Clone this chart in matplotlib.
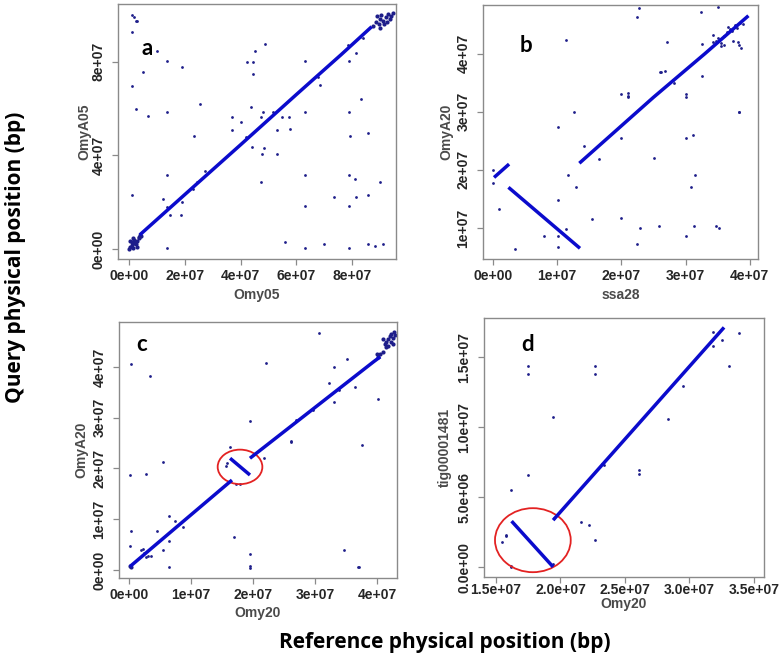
import matplotlib
matplotlib.use("Agg")
import matplotlib.pyplot as plt
from matplotlib.patches import Ellipse

E7 = 1e7  # all positions below are in units of 1e7 bp

# ---- panel a: Omy05 vs OmyA05
a_line_x = [0.39, 2.0, 4.0, 6.0, 7.6, 8.7]
a_line_y = [0.6, 2.32, 4.45, 6.6, 8.3, 9.5]
a_dots_x = [0.1, 0.17, 0.24, 0.29, 0.1, 0.99, 1.37, 0.49, 1.89, 0.12, 2.54, 0.25, 1.37, 0.67, 2.33,
            2.71, 1.37, 2.43, 0.12, 1.23, 1.37, 1.47, 1.85, 1.37, 4.52, 4.22, 4.43, 4.43, 4.87, 4.37,
            4.81, 4.73, 3.7, 4.01, 3.7, 5.17, 5.32, 5.47, 5.75, 5.77, 4.2, 4.42, 4.84, 4.76, 5.32,
            4.73, 5.6, 6.3, 6.3, 6.3, 6.3, 6.3, 6.76, 6.84, 6.99, 7.35, 7.86, 7.88, 7.9, 7.92, 7.9,
            7.9, 7.9, 8.1, 8.14, 8.12, 8.3, 8.58, 8.58, 8.58, 8.82, 9.0, 9.1, 1.9, 2.3, 8.28, 8.4]
a_dots_y = [10.0, 9.93, 9.76, 9.76, 9.26, 8.47, 8.03, 7.58, 7.79, 6.97, 6.2, 5.97, 5.86, 5.68, 4.84,
            3.33, 3.16, 2.88, 2.3, 2.13, 1.8, 1.45, 1.45, 0.02, 8.47, 7.98, 7.98, 7.48, 8.74, 6.08,
            5.87, 5.65, 5.65, 5.41, 5.08, 5.87, 5.08, 5.62, 5.62, 5.13, 4.8, 4.37, 4.33, 4.06, 4.05,
            2.88, 0.28, 8.03, 5.84, 3.16, 1.83, 0.02, 7.36, 7.0, 0.2, 2.2, 8.72, 8.03, 5.84, 4.84, 3.16,
            1.83, 0.02, 2.99, 2.23, 8.39, 6.4, 4.96, 2.3, 0.19, 0.12, 2.88, 0.19, 2.0, 2.55, 9.06, 9.0]
a_clust_x = [0.0, 0.05, 0.1, 0.15, 0.1, 0.2, 0.25, 0.3, 0.35, 0.4, 0.15, 0.3, 0.05, 0.2, 0.42, 0.38,
             8.75, 8.85, 8.9, 9.0, 9.05, 9.1, 9.15, 9.2, 9.3, 9.35, 9.4, 9.0, 9.25, 8.95, 9.45]
a_clust_y = [0.0, 0.1, 0.15, 0.05, 0.3, 0.4, 0.2, 0.35, 0.5, 0.6, 0.45, 0.1, 0.35, 0.25, 0.55, 0.45,
             9.55, 9.7, 9.95, 9.85, 10.0, 9.75, 9.6, 9.9, 10.05, 9.85, 9.95, 9.45, 9.7, 9.6, 10.1]

# ---- panel b: ssa28 vs OmyA20
b_seg1_x, b_seg1_y = [0.016, 0.25], [1.87, 2.10]
b_seg2_x, b_seg2_y = [0.24, 1.355], [1.70, 0.65]
b_seg3_x = [1.345, 2.5, 3.3, 3.98]
b_seg3_y = [2.115, 3.25, 4.0, 4.655]
b_dots_x = [0, 0, 0.1, 0.35, 0.79, 1.01, 1.01, 1.01, 1.01, 1.14, 1.17, 1.14, 1.26, 1.3, 1.42, 1.54,
            1.65, 2.0, 2.0, 2.0, 2.1, 2.1, 2.1, 2.25, 2.28, 2.25, 2.29, 2.51, 2.59, 2.6, 2.62, 2.68,
            2.71, 2.81, 2.82, 3.0, 3.0, 3.0, 3.0, 3.09, 3.12, 3.13, 3.14, 3.25, 3.25, 3.24, 3.51,
            3.47, 3.52, 3.84, 3.83, 3.74, 3.82, 3.84, 3.86, 3.56, 3.6,
            3.43, 3.43, 3.5, 3.64, 3.69, 3.77, 3.85, 3.56, 3.6, 3.72, 3.8, 3.9, 3.47, 3.66]
b_dots_y = [1.99, 1.78, 1.32, 0.64, 0.87, 1.48, 0.86, 0.68, 2.74, 4.24, 1.92, 0.98, 3.0, 1.70, 2.42,
            1.16, 2.18, 3.31, 2.55, 1.18, 3.32, 3.28, 3.25, 4.63, 4.79, 0.73, 1.0, 2.2, 1.04, 3.68,
            3.68, 3.7, 4.2, 3.55, 3.5, 3.3, 3.25, 2.55, 0.86, 1.70, 2.6, 1.04, 1.92, 4.16, 3.62, 4.72,
            4.8, 1.04, 1.0, 3.0, 3.0, 4.22, 4.2, 4.15, 4.1, 4.18, 4.15,
            4.33, 4.2, 4.28, 4.38, 4.43, 4.5, 4.53, 4.13, 4.3, 4.4, 4.45, 4.52, 4.22, 4.46]

# ---- panel c: Omy20 vs OmyA20
c_seg1_x, c_seg1_y = [0.016, 1.66], [0.065, 1.77]
c_seg2_x, c_seg2_y = [1.63, 1.95], [2.2, 1.87]
c_seg3_x, c_seg3_y = [1.95, 3.94, 4.05], [2.2, 4.10, 4.2]
c_dots_x = [0.03, 0.34, 0.016, 0.27, 0.55, 0.03, 0.02, 0.2, 0.23, 0.25, 0.28, 0.31, 0.35, 0.46, 0.55,
            0.65, 0.64, 0.65, 0.74, 0.87, 1.63, 1.56, 1.58, 1.7, 1.72, 1.79, 1.95, 1.95, 1.95, 1.95,
            2.18, 2.21, 2.61, 2.61, 2.69, 2.96, 3.07, 3.23, 3.3, 3.31, 3.38, 3.47, 3.51, 3.64, 3.75,
            3.69, 3.71, 4.02]
c_dots_y = [4.05, 3.82, 1.87, 1.89, 2.12, 0.76, 0.47, 0.4, 0.42, 0.33, 0.25, 0.27, 0.28, 0.76, 0.4,
            0.05, 1.06, 0.57, 0.96, 0.85, 2.42, 2.05, 2.1, 0.64, 1.7, 1.7, 0.32, 0.07, 0.04, 2.94,
            2.2, 4.07, 2.55, 2.52, 2.95, 3.16, 4.66, 3.69, 4.0, 3.31, 3.54, 0.4, 4.15, 3.61, 2.46,
            0.06, 0.06, 3.36]
c_clust_x = [4.05, 4.1, 4.12, 4.15, 4.18, 4.2, 4.22, 4.25, 4.28, 4.15, 4.22, 4.27, 4.1, 4.18, 4.25,
             4.02, 4.0, 0.02, 0.04]
c_clust_y = [4.25, 4.3, 4.45, 4.5, 4.55, 4.6, 4.65, 4.58, 4.62, 4.4, 4.5, 4.68, 4.55, 4.42, 4.45,
             4.2, 4.25, 0.08, 0.05]

# ---- panel d: Omy20 vs tig00001481
d_seg1_x, d_seg1_y = [1.621, 1.943], [0.329, 0.002]
d_seg2_x, d_seg2_y = [1.943, 3.268], [0.336, 1.712]
d_dots_x = [1.745, 1.745, 2.267, 2.267, 1.94, 1.745, 1.62, 1.577, 1.577, 1.55, 1.617, 1.62, 2.162,
            2.22, 2.27, 2.605, 2.605, 2.83, 2.95, 3.18, 3.18, 3.25, 3.31, 3.38, 2.335, 2.32, 1.94, 1.95]
d_dots_y = [1.44, 1.38, 1.44, 1.38, 1.07, 0.656, 0.55, 0.23, 0.22, 0.18, 0.005, 0.012, 0.324,
            0.30, 0.197, 0.697, 0.669, 1.06, 1.295, 1.68, 1.58, 1.62, 1.44, 1.67, 0.73, 0.74, 0.02, 0.35]

# tick positions / labels
a_xticks, a_yticks = [0, 2, 4, 6, 8], [0, 4, 8]
a_xlabels = ["0e+00", "2e+07", "4e+07", "6e+07", "8e+07"]
a_ylabels = ["0e+00", "4e+07", "8e+07"]
bc_xticks, bc_yticks = [0, 1, 2, 3, 4], [1, 2, 3, 4]
bc_xlabels = ["0e+00", "1e+07", "2e+07", "3e+07", "4e+07"]
b_ylabels = ["1e+07", "2e+07", "3e+07", "4e+07"]
c_yticks = [0, 1, 2, 3, 4]
c_ylabels = ["0e+00", "1e+07", "2e+07", "3e+07", "4e+07"]
d_xticks, d_yticks = [1.5, 2.0, 2.5, 3.0, 3.5], [0, 0.5, 1.0, 1.5]
d_xlabels = ["1.5e+07", "2.0e+07", "2.5e+07", "3.0e+07", "3.5e+07"]
d_ylabels = ["0.0e+00", "5.0e+06", "1.0e+07", "1.5e+07"]

LINE = "#0b0bcc"
DOT = "#1e1e8a"
BOX = "#8a8a8a"
RED = "#e32222"

plt.rcParams["font.family"] = ["Liberation Sans", "DejaVu Sans"]
plt.rcParams["font.weight"] = "bold"
plt.rcParams["axes.labelweight"] = "bold"

fig = plt.figure(figsize=(7.84, 6.56), dpi=100)


def scaled(v):
    return [t * E7 for t in v]


def setup(ax, xlim, ylim, xt, xl, yt, yl, xlabel, ylabel, letter, lpos, xlab_y, ylab_x, xpad=3):
    ax.set_xlim(xlim[0] * E7, xlim[1] * E7)
    ax.set_ylim(ylim[0] * E7, ylim[1] * E7)
    ax.set_xticks(scaled(xt))
    ax.set_xticklabels(xl, fontsize=10, fontweight="bold", color="#262626")
    ax.set_yticks(scaled(yt))
    ax.set_yticklabels(yl, rotation=90, va="center", fontsize=10, fontweight="bold",
                       color="#262626")
    ax.tick_params(direction="out", length=4, width=0.9, color=BOX)
    ax.tick_params(axis="x", pad=xpad)
    ax.tick_params(axis="y", pad=5)
    for s in ax.spines.values():
        s.set_color(BOX)
        s.set_linewidth(1.0)
    ax.set_xlabel(xlabel, fontsize=10, fontweight="bold", color="#4a4a4a")
    ax.set_ylabel(ylabel, fontsize=10, fontweight="bold", color="#4a4a4a")
    ax.xaxis.set_label_coords(0.5, xlab_y)
    ax.yaxis.set_label_coords(ylab_x, 0.5)
    ax.xaxis.label.set_va("center")
    ax.yaxis.label.set_va("center")
    ax.text(lpos[0], lpos[1], letter, transform=ax.transAxes, ha="center", va="center",
            family="Lato", weight="bold", size=16, color="black")


def draw_line(ax, x, y):
    ax.plot(scaled(x), scaled(y), color=LINE, lw=2.5, solid_capstyle="butt")


def draw_dots(ax, x, y, s=4):
    ax.scatter(scaled(x), scaled(y), s=s, color=DOT, linewidths=0)


# panel a
ax_a = fig.add_axes([0.1505, 0.6052, 0.3546, 0.3887])
draw_line(ax_a, a_line_x, a_line_y)
draw_dots(ax_a, a_dots_x, a_dots_y)
draw_dots(ax_a, a_clust_x, a_clust_y, s=9)
setup(ax_a, (-0.39, 9.57), (-0.43, 10.47), a_xticks, a_xlabels, a_yticks, a_ylabels,
      "Omy05", "OmyA05", "a", (0.106, 0.827), -0.141, -0.12)

# panel b
ax_b = fig.add_axes([0.6161, 0.6052, 0.3508, 0.3872])
for sx, sy in [(b_seg1_x, b_seg1_y), (b_seg2_x, b_seg2_y), (b_seg3_x, b_seg3_y)]:
    draw_line(ax_b, sx, sy)
draw_dots(ax_b, b_dots_x, b_dots_y)
setup(ax_b, (-0.156, 4.13), (0.466, 4.84), bc_xticks, bc_xlabels, bc_yticks, b_ylabels,
      "ssa28", "OmyA20", "b", (0.156, 0.839), -0.141, -0.135)

# panel c
ax_c = fig.add_axes([0.1518, 0.1189, 0.3546, 0.3902])
for sx, sy in [(c_seg1_x, c_seg1_y), (c_seg2_x, c_seg2_y), (c_seg3_x, c_seg3_y)]:
    draw_line(ax_c, sx, sy)
draw_dots(ax_c, c_dots_x, c_dots_y)
draw_dots(ax_c, c_clust_x, c_clust_y, s=9)
ax_c.add_patch(Ellipse((1.79 * E7, 2.03 * E7), 0.72 * E7, 0.68 * E7, fill=False,
                       edgecolor=RED, lw=1.3))
setup(ax_c, (-0.16, 4.32), (-0.16, 4.885), bc_xticks, bc_xlabels, c_yticks, c_ylabels,
      "Omy20", "OmyA20", "c", (0.083, 0.914), -0.137, -0.137)

# panel d
ax_d = fig.add_axes([0.6173, 0.1204, 0.3571, 0.3948])
for sx, sy in [(d_seg1_x, d_seg1_y), (d_seg2_x, d_seg2_y)]:
    draw_line(ax_d, sx, sy)
draw_dots(ax_d, d_dots_x, d_dots_y)
ax_d.add_patch(Ellipse((1.786 * E7, 0.193 * E7), 0.587 * E7, 0.457 * E7, fill=False,
                       edgecolor=RED, lw=1.3))
setup(ax_d, (1.407, 3.577), (-0.07, 1.779), d_xticks, d_xlabels, d_yticks, d_ylabels,
      "Omy20", "tig00001481", "d", (0.154, 0.896), -0.105, -0.139, xpad=0.5)

# shared outer labels
fig.text(0.0204, 0.607, "Query physical position (bp)", rotation=90, ha="center", va="center",
         family="Open Sans", weight="bold", size=15, color="black")
fig.text(0.568, 0.021, "Reference physical position (bp)", ha="center", va="center",
         family="Open Sans", weight="bold", size=15, color="black")

fig.savefig("out.png", dpi=100)
